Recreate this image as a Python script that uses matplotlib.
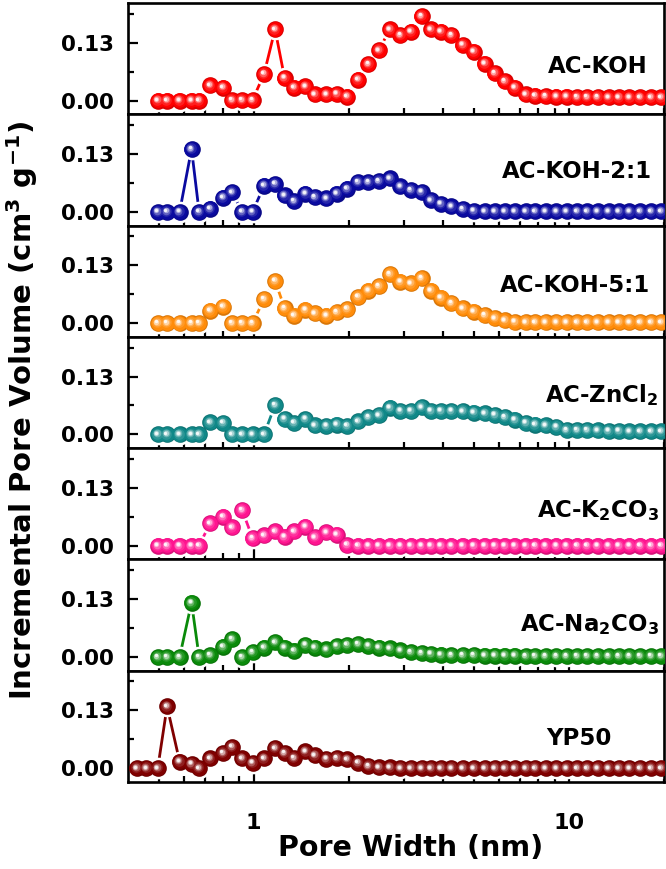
import matplotlib.pyplot as plt
import numpy as np
from matplotlib import transforms
from matplotlib.colors import to_rgb
from matplotlib.ticker import FixedLocator, FuncFormatter, NullFormatter

plt.rcParams['font.family'] = ['DejaVu Sans']
plt.rcParams['font.weight'] = 'bold'
plt.rcParams['mathtext.default'] = 'bf'

# pore widths (nm)
pore_width = [0.497, 0.532, 0.583, 0.636, 0.672, 0.728, 0.801, 0.855, 0.920, 0.993,
              1.080, 1.170, 1.254, 1.343, 1.461, 1.565, 1.702, 1.834, 1.977, 2.142,
              2.312, 2.496, 2.704, 2.919, 3.151, 3.407, 3.645, 3.921, 4.240, 4.603,
              4.987, 5.402, 5.810, 6.251, 6.723, 7.286, 7.806, 8.427, 9.111, 9.822,
              10.60, 11.40, 12.31, 13.34, 14.39, 15.54, 16.80, 18.18, 19.58]
yp50_width = [0.426, 0.457] + pore_width

ac_koh = [0, 0, 0, 0, 0, 0.034, 0.029, 0.001, 0.001, 0.001,
          0.060, 0.160, 0.051, 0.029, 0.032, 0.014, 0.014, 0.015, 0.009, 0.047,
          0.082, 0.113, 0.160, 0.147, 0.155, 0.190, 0.160, 0.155, 0.147, 0.125,
          0.110, 0.083, 0.062, 0.044, 0.029, 0.014, 0.011, 0.010, 0.009, 0.009,
          0.008, 0.008, 0.008, 0.007, 0.007, 0.007, 0.007, 0.007, 0.007]
ac_koh_21 = [0, 0, 0, 0.141, 0, 0.007, 0.032, 0.044, 0, 0,
             0.059, 0.063, 0.037, 0.024, 0.041, 0.033, 0.030, 0.041, 0.052, 0.067,
             0.067, 0.069, 0.075, 0.057, 0.049, 0.045, 0.026, 0.018, 0.012, 0.006,
             0.002, 0.001, 0.001, 0.001, 0.001, 0.001, 0.001, 0.001, 0.001, 0.001,
             0.001, 0.001, 0.001, 0.001, 0.001, 0.001, 0.001, 0.001, 0.001]
ac_koh_51 = [0, 0, 0, 0, 0, 0.028, 0.037, 0, 0, 0,
             0.054, 0.095, 0.034, 0.017, 0.030, 0.022, 0.017, 0.025, 0.032, 0.059,
             0.073, 0.083, 0.110, 0.093, 0.089, 0.101, 0.073, 0.057, 0.045, 0.033,
             0.026, 0.018, 0.011, 0.006, 0.003, 0.002, 0.002, 0.002, 0.002, 0.002,
             0.002, 0.002, 0.002, 0.002, 0.002, 0.002, 0.002, 0.002, 0.002]
ac_zncl2 = [0, 0, 0, 0, 0, 0.027, 0.026, 0, 0, 0,
            0, 0.066, 0.035, 0.026, 0.035, 0.020, 0.019, 0.022, 0.019, 0.029,
            0.039, 0.043, 0.060, 0.053, 0.053, 0.061, 0.053, 0.053, 0.053, 0.052,
            0.049, 0.047, 0.044, 0.039, 0.033, 0.026, 0.022, 0.020, 0.017, 0.010,
            0.010, 0.010, 0.009, 0.008, 0.008, 0.007, 0.007, 0.007, 0.007]
ac_k2co3 = [0, 0, 0, 0, 0, 0.050, 0.065, 0.041, 0.080, 0.017,
            0.023, 0.032, 0.020, 0.032, 0.043, 0.019, 0.030, 0.025, 0.002, 0,
            0, 0, 0, 0, 0, 0, 0, 0, 0, 0,
            0, 0, 0, 0, 0, 0, 0, 0, 0, 0,
            0, 0, 0, 0, 0, 0, 0, 0, 0]
ac_na2co3 = [0, 0, 0, 0.122, 0, 0.004, 0.023, 0.040, 0, 0.011,
             0.021, 0.033, 0.021, 0.014, 0.027, 0.021, 0.017, 0.025, 0.027, 0.029,
             0.025, 0.021, 0.019, 0.015, 0.011, 0.009, 0.007, 0.005, 0.004, 0.004,
             0.004, 0.003, 0.003, 0.003, 0.003, 0.002, 0.002, 0.002, 0.002, 0.002,
             0.002, 0.002, 0.002, 0.002, 0.002, 0.002, 0.002, 0.002, 0.002]
yp50 = [0, 0, 0, 0.139, 0.015, 0.010, 0, 0.022, 0.034, 0.048, 0.022, 0.012,
        0.022, 0.045, 0.034, 0.023, 0.038, 0.029, 0.021, 0.023, 0.020, 0.012,
        0.005, 0.002, 0.002, 0, 0, 0, 0, 0, 0, 0,
        0, 0, 0, 0, 0, 0, 0, 0, 0, 0,
        0, 0, 0, 0, 0, 0, 0, 0, 0]

samples = [
    ("AC-KOH", pore_width, ac_koh, "#FF0000", 0.970, 0.37),
    ("AC-KOH-2:1", pore_width, ac_koh_21, "#0A0AA0", 0.978, 0.43),
    ("AC-KOH-5:1", pore_width, ac_koh_51, "#FF8C0A", 0.974, 0.40),
    ("AC-ZnCl$_2$", pore_width, ac_zncl2, "#108888", 0.990, 0.41),
    ("AC-K$_2$CO$_3$", pore_width, ac_k2co3, "#FF1490", 0.990, 0.38),
    ("AC-Na$_2$CO$_3$", pore_width, ac_na2co3, "#0A8A0A", 0.990, 0.36),
    ("YP50", yp50_width, yp50, "#800000", 0.903, 0.33),
]


def draw_balls(ax, x, y, color, size=12.0):
    rgb = np.array(to_rgb(color))
    ax.plot(x, y, color=color, lw=2.0, zorder=2.1, solid_capstyle="butt")
    # white halo so the line stops short of each ball
    ax.plot(x, y, ls="none", marker="o", ms=size + 3.6, mfc="white", mec="none", zorder=2.2)
    ax.plot(x, y, ls="none", marker="o", ms=size, mfc=rgb * 0.85, mec="none", zorder=4)
    shades = [(0.88, 0.0), (0.64, 0.12), (0.46, 0.35), (0.32, 0.65), (0.20, 0.95)]
    for frac, mix in shades:
        shift = transforms.offset_copy(ax.transData, fig=ax.figure,
                                       x=-1.5 * (1 - frac), y=1.5 * (1 - frac), units="points")
        ax.plot(x, y, ls="none", marker="o", ms=size * frac, mfc=rgb + (1 - rgb) * mix,
                mec="none", zorder=4.1, transform=shift)


fig, axes = plt.subplots(7, 1, figsize=(6.66, 8.69), dpi=100, sharex=True)
fig.subplots_adjust(left=0.1922, right=0.997, top=0.9965, bottom=0.1001, hspace=0)

for ax, (label, xs, ys, color, tx, ty) in zip(axes, samples):
    ax.set_xscale("log")
    draw_balls(ax, xs, ys, color)
    ax.set_xlim(0.4, 20)
    ax.set_ylim(-0.031, 0.219)
    ax.set_yticks([0, 0.13])
    ax.set_yticklabels(["0.00", "0.13"])
    ax.set_yticks([0.065, 0.195], minor=True)
    ax.xaxis.set_major_locator(FixedLocator([1, 10]))
    ax.xaxis.set_minor_locator(FixedLocator([0.5, 0.6, 0.7, 0.8, 0.9, 2, 3, 4, 5, 6, 7, 8, 9, 20]))
    ax.xaxis.set_major_formatter(FuncFormatter(lambda v, p: "{:g}".format(v)))
    ax.xaxis.set_minor_formatter(NullFormatter())
    ax.tick_params(which="both", direction="in", width=1.6, top=False, right=False)
    ax.tick_params(which="major", length=7)
    ax.tick_params(which="minor", length=4.3)
    ax.tick_params(axis="y", labelsize=15.5, pad=10)
    ax.tick_params(axis="x", labelsize=16, pad=22)
    for spine in ax.spines.values():
        spine.set_linewidth(1.9)
    ax.text(tx, ty, label, transform=ax.transAxes, ha="right", va="baseline",
            fontsize=16.5, fontweight="bold")

fig.text(0.033, 0.528, "Incremental Pore Volume (cm$^3$ g$^{-1}$)", rotation=90,
         ha="center", va="center", fontsize=21, fontweight="bold")
fig.text(0.617, 0.024, "Pore Width (nm)", ha="center", va="center",
         fontsize=20.5, fontweight="bold")

fig.savefig("out.png", dpi=100)
